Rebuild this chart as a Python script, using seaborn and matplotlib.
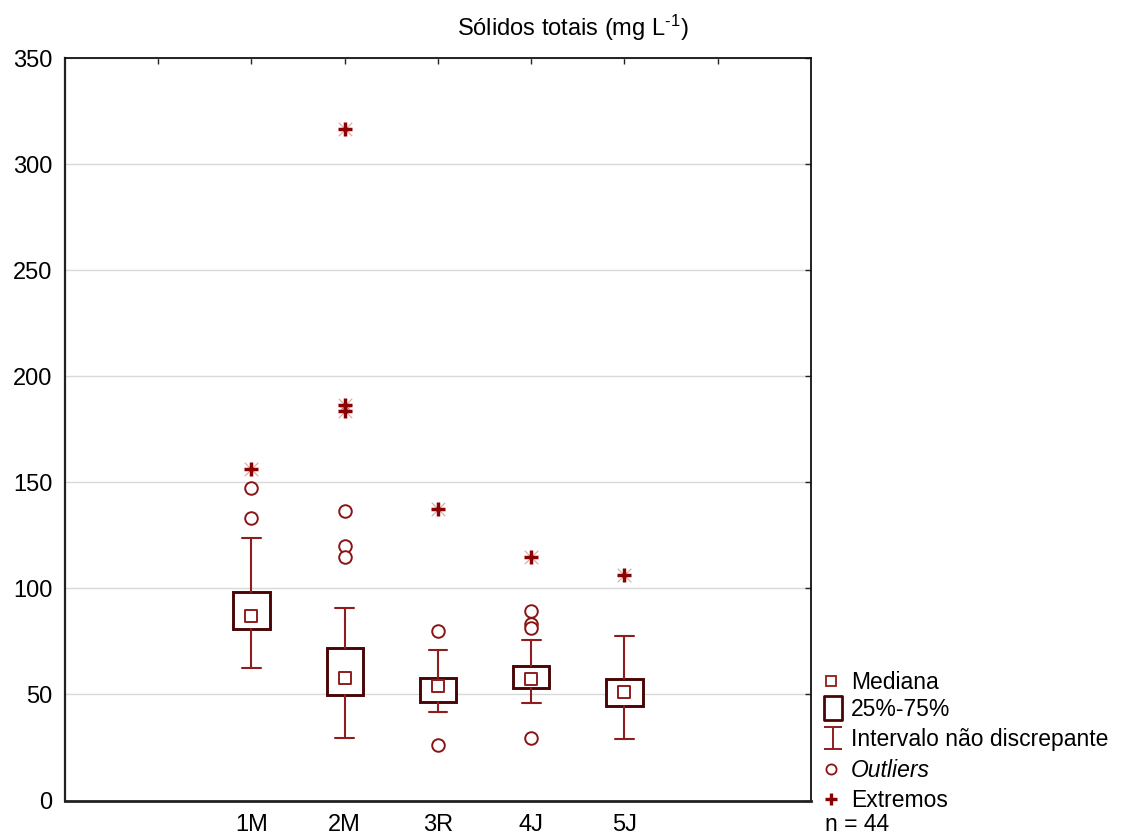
import numpy as np
import pandas as pd
import matplotlib
matplotlib.use("Agg")
import matplotlib.pyplot as plt
import seaborn as sns
from matplotlib.path import Path
from matplotlib.lines import Line2D

# ---------------- data ----------------
categories = ["1M", "2M", "3R", "4J", "5J"]
medians = [86.8, 57.9, 54.1, 57.1, 51.4]
q1 = [80.9, 49.8, 46.4, 53.0, 44.5]
q3 = [98.3, 71.8, 57.7, 63.4, 57.4]
whisker_low = [62.7, 29.7, 41.5, 45.8, 28.8]
whisker_high = [123.7, 90.7, 70.8, 75.6, 77.7]

outlier_group = ["1M", "1M", "2M", "2M", "2M", "3R", "3R", "4J", "4J", "4J", "4J"]
outlier_values = [147.5, 133.3, 136.5, 119.8, 114.9, 80.0, 26.1, 89.2, 83.3, 81.3, 29.7]

extreme_group = ["1M", "2M", "2M", "2M", "3R", "4J", "5J"]
extreme_values = [156.1, 316.5, 186.5, 183.5, 137.6, 114.8, 106.5]

yticks = [0, 50, 100, 150, 200, 250, 300, 350]
title = r"Sólidos totais (mg L$^{\text{-1}}$)"
legend_labels = ["Mediana", "25%-75%", "Intervalo não discrepante", "Outliers", "Extremos"]
n_text = "n = 44"

# ---------------- style ----------------
sns.set_theme(style="white")
plt.rcParams["font.family"] = ["Liberation Sans", "DejaVu Sans"]
plt.rcParams["mathtext.fontset"] = "custom"
plt.rcParams["mathtext.rm"] = "Liberation Sans"
plt.rcParams["mathtext.it"] = "Liberation Sans:italic"
plt.rcParams["text.color"] = "black"

BOX_C = "#4a0606"
WH_C = "#8f1d1d"
PT_C = "#8b1414"
EX_C = "#8b0000"

W, H = 1126, 836
fig = plt.figure(figsize=(W / 100, H / 100), dpi=100)
ax = fig.add_axes([65 / W, 1 - 800.5 / H, (811 - 65) / W, (800.5 - 58.3) / H])

pos = {c: i for i, c in enumerate(categories)}

# boxes and whiskers from summary stats
stats = [
    dict(med=m, q1=a, q3=b, whislo=lo, whishi=hi, fliers=[], label=c)
    for c, m, a, b, lo, hi in zip(categories, medians, q1, q3, whisker_low, whisker_high)
]
ax.bxp(
    stats,
    positions=list(range(len(categories))),
    widths=0.39,
    showfliers=False,
    patch_artist=True,
    boxprops=dict(facecolor="white", edgecolor=BOX_C, linewidth=2.1),
    whiskerprops=dict(color=WH_C, linewidth=1.5),
    capprops=dict(color=WH_C, linewidth=1.5),
    capwidths=0.2,
    medianprops=dict(linewidth=0),
    zorder=3,
)

# median squares
sns.scatterplot(x=[pos[c] for c in categories], y=medians, marker="s", s=82,
                facecolor="white", edgecolor=WH_C, linewidth=1.4, ax=ax, zorder=4)
# outliers
sns.scatterplot(x=[pos[g] for g in outlier_group], y=outlier_values, marker="o", s=82,
                facecolor="white", edgecolor=PT_C, linewidth=1.4, ax=ax, zorder=4)
# extremes
ex_x = [pos[g] for g in extreme_group]
sns.scatterplot(x=ex_x, y=extreme_values, marker="x", s=95, color=EX_C,
                linewidth=0.8, alpha=0.35, ax=ax, zorder=4)
sns.scatterplot(x=ex_x, y=extreme_values, marker="+", s=95, color=EX_C,
                linewidth=2.5, ax=ax, zorder=5)

# axes
ax.set_xlim(-2, 6)
ax.set_ylim(0, 350)
xt = list(range(-1, 6))
ax.set_xticks(xt)
ax.set_xticklabels([""] + categories + [""])
ax.set_yticks(yticks)
ax.set_yticklabels([str(v) for v in yticks])
ax.set_xlabel("")
ax.set_ylabel("")
ax.yaxis.grid(True, color="#d9d9d9", linewidth=1.0, zorder=0)
ax.xaxis.grid(False)
ax.set_axisbelow(True)
ax.tick_params(axis="both", direction="in", length=4, width=1.0, color="#222222",
               top=True, right=True, labelsize=17, labelcolor="black")
ax.tick_params(axis="x", pad=10)
ax.tick_params(axis="y", pad=9)
for side, lw, col in [("left", 1.6, "#222222"), ("bottom", 2.0, "#222222"),
                      ("top", 1.3, "#111111"), ("right", 1.3, "#111111")]:
    ax.spines[side].set_visible(True)
    ax.spines[side].set_linewidth(lw)
    ax.spines[side].set_color(col)

fig.text(573 / W, 1 - 36 / H, title, ha="center", va="baseline", fontsize=17, color="black")

# legend (manual, in figure pixels)
whisk_path = Path([(-0.39, -0.5), (0.39, -0.5), (0, -0.5), (0, 0.5), (-0.39, 0.5), (0.39, 0.5)],
                  [Path.MOVETO, Path.LINETO, Path.MOVETO, Path.LINETO, Path.MOVETO, Path.LINETO])
rect_path = Path([(-0.38, -0.5), (0.38, -0.5), (0.38, 0.5), (-0.38, 0.5), (-0.38, -0.5)],
                 [Path.MOVETO, Path.LINETO, Path.LINETO, Path.LINETO, Path.CLOSEPOLY])
marker_specs = [
    dict(marker="s", markersize=7.3, markerfacecolor="white", markeredgecolor=WH_C, markeredgewidth=1.3),
    dict(marker=rect_path, markersize=17, markerfacecolor="white", markeredgecolor=BOX_C, markeredgewidth=2.0),
    dict(marker=whisk_path, markersize=16, markerfacecolor="none", markeredgecolor=WH_C, markeredgewidth=1.4),
    dict(marker="o", markersize=7.3, markerfacecolor="white", markeredgecolor=PT_C, markeredgewidth=1.3),
    dict(marker="+", markersize=8.5, markeredgecolor=EX_C, markeredgewidth=2.4),
]
marker_x = [831, 833, 833, 831, 831]
row_y = [681, 708, 737.5, 768.5, 799]
leg_fs = 16.5
cap_half = leg_fs * 1.389 * 0.716 / 2
for spec, mx, ry, lab in zip(marker_specs, marker_x, row_y, legend_labels):
    fig.add_artist(Line2D([mx / W], [1 - ry / H], transform=fig.transFigure,
                          linestyle="none", **spec))
    fig.text(851 / W, 1 - (ry + cap_half) / H, lab, ha="left", va="baseline",
             fontsize=leg_fs, color="black",
             style="italic" if lab == "Outliers" else "normal")

fig.text(825 / W, 1 - (823 + cap_half) / H, n_text, ha="left", va="baseline",
         fontsize=leg_fs, color="black")

fig.savefig("out.png", dpi=100)
